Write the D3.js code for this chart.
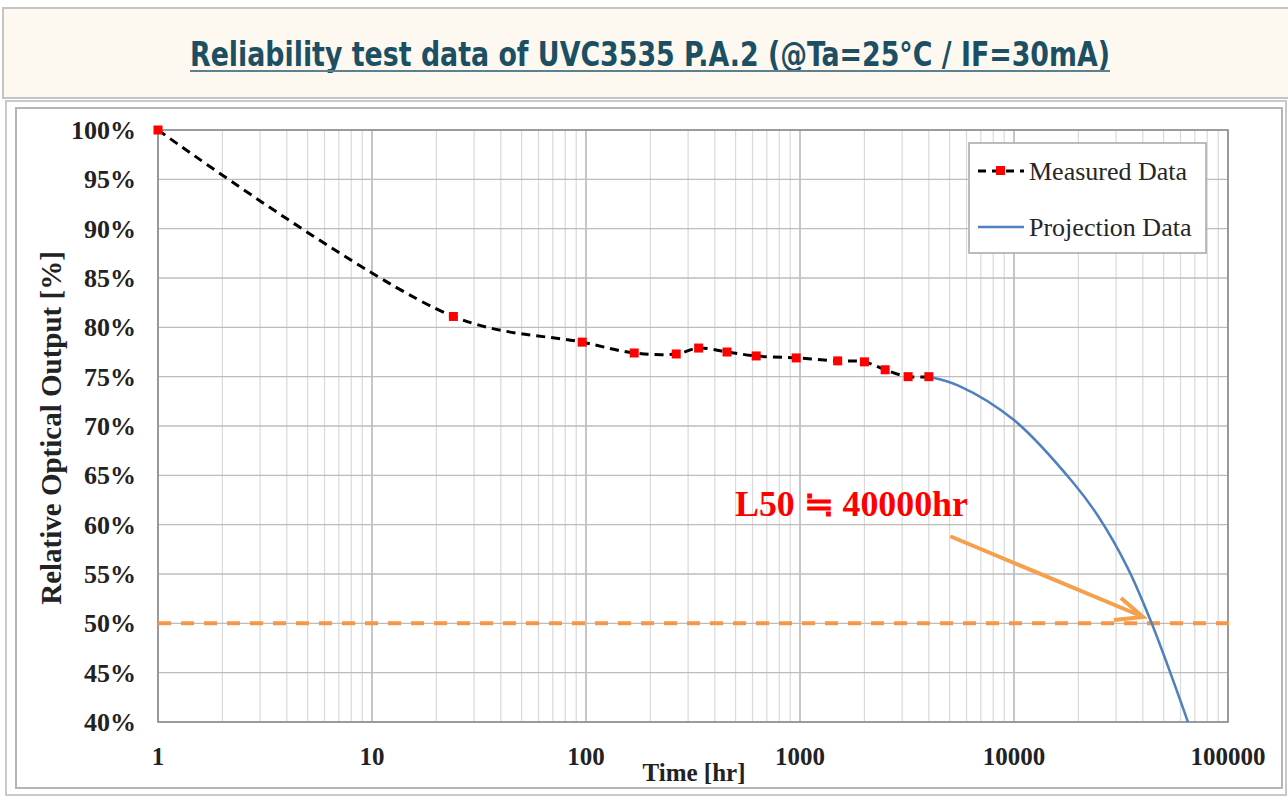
<!DOCTYPE html>
<html>
<head>
<meta charset="utf-8">
<script src="https://cdn.jsdelivr.net/npm/d3@7/dist/d3.min.js"></script>
<style>
  body { margin: 0; background: #fff; }
  svg { display: block; }
</style>
</head>
<body>
<div id="chart"></div>
<script>
// Measured data (hours, relative output %)
const measuredHours = [1, 24, 96, 168, 264, 336, 456, 624, 960, 1500, 2000, 2500, 3200, 4000];
const measuredValues = [100, 81.1, 78.5, 77.4, 77.3, 77.9, 77.5, 77.1, 76.9, 76.6, 76.5, 75.7, 75.0, 75.0];

// Projection data
const projectionHours = [4000, 5500, 10000, 19000, 25000, 34000, 44000, 65000];
const projectionValues = [75.0, 74.1, 70.6, 64.2, 60.7, 55.6, 50.0, 40.0];

// Axis ticks
const xTicks = [1, 10, 100, 1000, 10000, 100000];
const yTicks = [40, 45, 50, 55, 60, 65, 70, 75, 80, 85, 90, 95, 100];

const l50Level = 50;

const width = 1288;
const height = 798;
const serif = "'Liberation Serif', 'Times New Roman', serif";

const svg = d3.select("#chart")
    .append("svg")
    .attr("width", width)
    .attr("height", height);

// Title box
svg.append("rect")
    .attr("x", 3).attr("y", 8)
    .attr("width", 1292).attr("height", 90)
    .attr("fill", "#fdf9f0")
    .attr("stroke", "#c4c4c4")
    .attr("stroke-width", 2);

svg.append("text")
    .attr("x", 650).attr("y", 66)
    .attr("text-anchor", "middle")
    .attr("textLength", 920)
    .attr("lengthAdjust", "spacingAndGlyphs")
    .style("font-family", "'Liberation Sans Narrow', 'DejaVu Sans Condensed', sans-serif")
    .style("font-size", "34px")
    .style("font-weight", "bold")
    .style("fill", "#1c4f63")
    .text("Reliability test data of UVC3535 P.A.2 (@Ta=25\u00b0C  /  IF=30mA)");

svg.append("line")
    .attr("x1", 190).attr("x2", 1110)
    .attr("y1", 71).attr("y2", 71)
    .attr("stroke", "#5c8090")
    .attr("stroke-width", 2);

// Chart frames
svg.append("rect")
    .attr("x", 6).attr("y", 101)
    .attr("width", 1280).attr("height", 694)
    .attr("fill", "none")
    .attr("stroke", "#c8c8c8")
    .attr("stroke-width", 2);

svg.append("rect")
    .attr("x", 16).attr("y", 108)
    .attr("width", 1266).attr("height", 680)
    .attr("fill", "#fff")
    .attr("stroke", "#b4b4b4")
    .attr("stroke-width", 2);

// Scales
const x = d3.scaleLog().domain([1, 100000]).range([158, 1228]);
const y = d3.scaleLinear().domain([40, 100]).range([722, 130]);

const plot = svg.append("g");

// Minor vertical grid
const minorTicks = [];
for (let d = 1; d < 100000; d *= 10) {
    for (let m = 2; m <= 9; m++) minorTicks.push(d * m);
}
plot.selectAll(".minor")
    .data(minorTicks)
    .enter()
    .append("line")
    .attr("x1", d => x(d)).attr("x2", d => x(d))
    .attr("y1", y(100)).attr("y2", y(40))
    .attr("stroke", "#d9d9d9")
    .attr("stroke-width", 1.2);

// Major vertical grid
plot.selectAll(".major")
    .data(xTicks)
    .enter()
    .append("line")
    .attr("x1", d => x(d)).attr("x2", d => x(d))
    .attr("y1", y(100)).attr("y2", y(40))
    .attr("stroke", "#a8a8a8")
    .attr("stroke-width", 1.3);

// Horizontal grid
plot.selectAll(".hgrid")
    .data(yTicks)
    .enter()
    .append("line")
    .attr("x1", x(1)).attr("x2", x(100000))
    .attr("y1", d => y(d)).attr("y2", d => y(d))
    .attr("stroke", "#bdbdbd")
    .attr("stroke-width", 1.3);

// Plot border
plot.append("rect")
    .attr("x", x(1)).attr("y", y(100))
    .attr("width", x(100000) - x(1))
    .attr("height", y(40) - y(100))
    .attr("fill", "none")
    .attr("stroke", "#8a8a8a")
    .attr("stroke-width", 1.5);

// Y tick labels
svg.selectAll(".ylab")
    .data(yTicks)
    .enter()
    .append("text")
    .attr("x", 136)
    .attr("y", d => y(d))
    .attr("dy", "0.35em")
    .attr("text-anchor", "end")
    .style("font-family", serif)
    .style("font-size", "26px")
    .style("font-weight", "bold")
    .style("fill", "#222")
    .text(d => d + "%");

// X tick labels
svg.selectAll(".xlab")
    .data(xTicks)
    .enter()
    .append("text")
    .attr("x", d => x(d))
    .attr("y", 765)
    .attr("text-anchor", "middle")
    .style("font-family", serif)
    .style("font-size", "25px")
    .style("font-weight", "bold")
    .style("fill", "#222")
    .text(d => d);

// Axis titles
svg.append("text")
    .attr("transform", "translate(61, 428) rotate(-90)")
    .attr("text-anchor", "middle")
    .style("font-family", serif)
    .style("font-size", "29px")
    .style("font-weight", "bold")
    .style("fill", "#222")
    .text("Relative Optical Output [%]");

svg.append("text")
    .attr("x", 694).attr("y", 781)
    .attr("text-anchor", "middle")
    .style("font-family", serif)
    .style("font-size", "25px")
    .style("font-weight", "bold")
    .style("fill", "#222")
    .text("Time [hr]");

// L50 reference line
svg.append("line")
    .attr("x1", x(1)).attr("x2", 1237)
    .attr("y1", y(l50Level)).attr("y2", y(l50Level))
    .attr("stroke", "#f79646")
    .attr("stroke-width", 4)
    .attr("stroke-dasharray", "13,10");

// Projection line
const projection = projectionHours.map((h, i) => ({ h: h, v: projectionValues[i] }));
const line = d3.line()
    .x(d => x(d.h))
    .y(d => y(d.v))
    .curve(d3.curveCatmullRom);

svg.append("path")
    .datum(projection)
    .attr("d", line)
    .attr("fill", "none")
    .attr("stroke", "#4f81bd")
    .attr("stroke-width", 2.5);

// Measured line
const measured = measuredHours.map((h, i) => ({ h: h, v: measuredValues[i] }));
svg.append("path")
    .datum(measured)
    .attr("d", line)
    .attr("fill", "none")
    .attr("stroke", "#000")
    .attr("stroke-width", 3)
    .attr("stroke-dasharray", "9,6");

svg.selectAll(".marker")
    .data(measured)
    .enter()
    .append("rect")
    .attr("x", d => x(d.h) - 4.5)
    .attr("y", d => y(d.v) - 4.5)
    .attr("width", 9).attr("height", 9)
    .attr("fill", "#ff0000");

// Annotation arrow
svg.append("line")
    .attr("x1", 952).attr("y1", 537)
    .attr("x2", 1141).attr("y2", 616)
    .attr("stroke", "#f5a04c")
    .attr("stroke-width", 4)
    .attr("stroke-linecap", "round");

svg.append("path")
    .attr("d", "M1121,598 L1143,617 L1114,620")
    .attr("fill", "none")
    .attr("stroke", "#f5a04c")
    .attr("stroke-width", 4)
    .attr("stroke-linejoin", "miter");

svg.append("text")
    .attr("x", 735).attr("y", 516)
    .attr("textLength", 233)
    .attr("lengthAdjust", "spacingAndGlyphs")
    .style("font-family", serif)
    .style("font-size", "35px")
    .style("font-weight", "bold")
    .style("fill", "#ff0000")
    .text("L50 \u2252 40000hr");

// Legend
const legend = svg.append("g");
legend.append("rect")
    .attr("x", 969).attr("y", 143)
    .attr("width", 237).attr("height", 110)
    .attr("fill", "#fff")
    .attr("stroke", "#a6a6a6")
    .attr("stroke-width", 1.5);

legend.append("line")
    .attr("x1", 977).attr("x2", 1024)
    .attr("y1", 171).attr("y2", 171)
    .attr("stroke", "#000")
    .attr("stroke-width", 3)
    .attr("stroke-dasharray", "8,6")
    .attr("stroke-dashoffset", -1);

legend.append("rect")
    .attr("x", 996).attr("y", 166)
    .attr("width", 9).attr("height", 9)
    .attr("fill", "#ff0000");

legend.append("text")
    .attr("x", 1029).attr("y", 171)
    .attr("dy", "0.35em")
    .style("font-family", serif)
    .style("font-size", "26px")
    .style("fill", "#262626")
    .text("Measured Data");

legend.append("line")
    .attr("x1", 978).attr("x2", 1024)
    .attr("y1", 227).attr("y2", 227)
    .attr("stroke", "#4f81bd")
    .attr("stroke-width", 2.5);

legend.append("text")
    .attr("x", 1029).attr("y", 227)
    .attr("dy", "0.35em")
    .style("font-family", serif)
    .style("font-size", "26px")
    .style("fill", "#262626")
    .text("Projection Data");
</script>
</body>
</html>
